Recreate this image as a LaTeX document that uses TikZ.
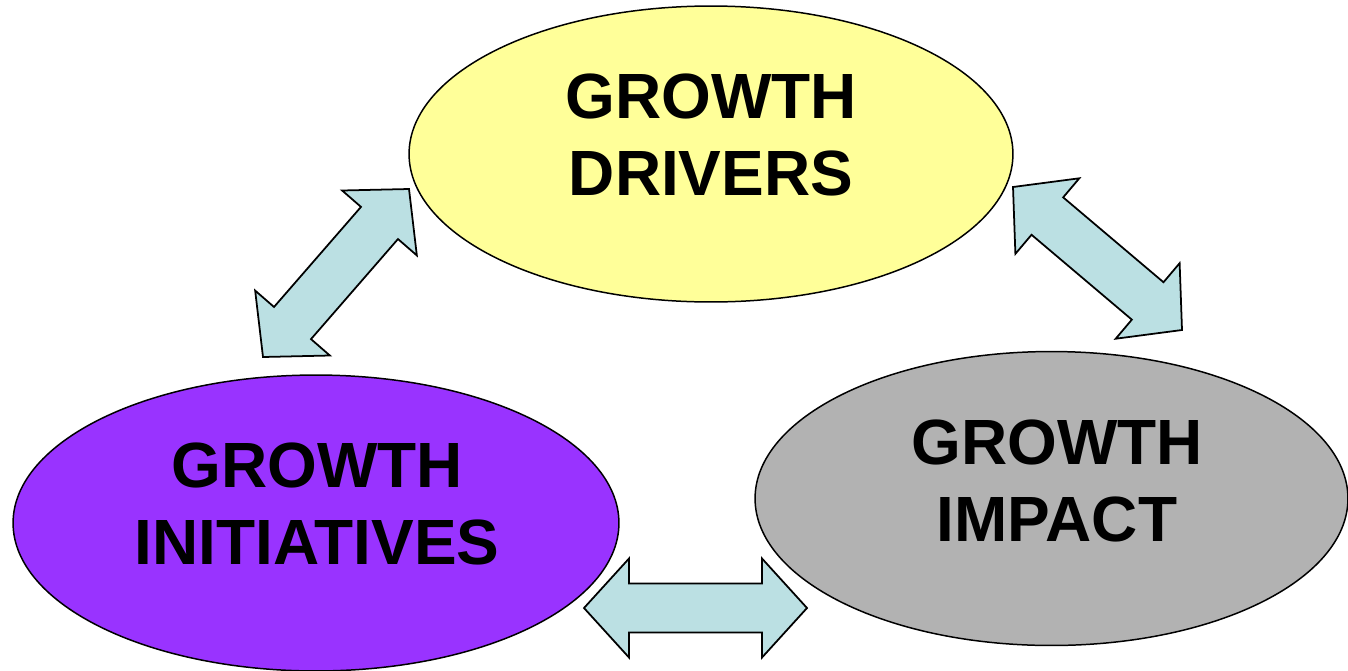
\documentclass[tikz,border=0pt]{standalone}
\usepackage{fontspec}
\setmainfont{Liberation Sans}
\usetikzlibrary{shapes.geometric,calc}
\definecolor{ylw}{HTML}{FFFF99}
\definecolor{prp}{HTML}{9933FF}
\definecolor{gry}{HTML}{B2B2B2}
\definecolor{arrc}{HTML}{BBE0E3}
\newcommand{\hl}{0.9cm}
\newcommand{\hw}{0.99cm}
\newcommand{\sw}{0.49cm}
\newcommand{\dblarr}[2]{%
  \draw[arrbody] (#1)
    -- ($(#1)!\hl!(#2)!\hw!90:(#2)$)
    -- ($(#1)!\hl!(#2)!\sw!90:(#2)$)
    -- ($(#2)!\hl!(#1)!\sw!-90:(#1)$)
    -- ($(#2)!\hl!(#1)!\hw!-90:(#1)$)
    -- (#2)
    -- ($(#2)!\hl!(#1)!\hw!90:(#1)$)
    -- ($(#2)!\hl!(#1)!\sw!90:(#1)$)
    -- ($(#1)!\hl!(#2)!\sw!-90:(#2)$)
    -- ($(#1)!\hl!(#2)!\hw!-90:(#2)$)
    -- cycle;}
\begin{document}
\begin{tikzpicture}[x=0.02cm,y=-0.02cm,
  oval/.style={ellipse, draw=black, line width=0.85pt, inner sep=0pt},
  lbl/.style={align=center, font=\bfseries\fontsize{36.4}{44.2}\selectfont, inner sep=0pt},
  arrbody/.style={fill=arrc, draw=black, line width=1pt, line join=miter}]
\clip (0,0) rectangle (1348,670);
\fill[white] (0,0) rectangle (1348,670);
\node[oval, fill=ylw, minimum width=12.08cm, minimum height=5.92cm] (drivers) at (711,154) {};
\node[oval, fill=prp, minimum width=12.12cm, minimum height=5.92cm] (initiatives) at (316,523) {};
\node[oval, fill=gry, minimum width=11.86cm, minimum height=5.88cm] (impact) at (1051.5,498.5) {};
\node[lbl] (tdrivers) at (711,135) {GROWTH\\DRIVERS};
\node[lbl] (tinit) at (317,504) {GROWTH\\INITIATIVES};
\node[lbl] (timpact) at (1057,481) {GROWTH\\IMPACT};
\coordinate (a1) at (263,357);
\coordinate (b1) at (409,189);
\coordinate (a2) at (1013,187);
\coordinate (b2) at (1182,330);
\coordinate (a3) at (584,608);
\coordinate (b3) at (807,608);
\dblarr{a1}{b1}
\dblarr{a2}{b2}
\dblarr{a3}{b3}
\end{tikzpicture}
\end{document}
